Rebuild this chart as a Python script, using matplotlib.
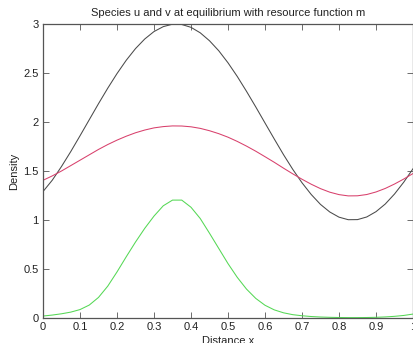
import matplotlib
matplotlib.use("Agg")
import matplotlib.pyplot as plt
import numpy as np

plt.rcParams['font.family'] = ['Liberation Sans', 'DejaVu Sans']

# distance along the habitat
x = np.linspace(0, 1, 41)

# resource function m (black)
m = [1.290, 1.406, 1.546, 1.698, 1.859, 2.023, 2.187, 2.345, 2.494, 2.630,
     2.749, 2.847, 2.923, 2.973, 2.998, 2.995, 2.966, 2.910, 2.829, 2.727,
     2.604, 2.465, 2.313, 2.154, 1.990, 1.827, 1.667, 1.517, 1.380, 1.260,
     1.159, 1.082, 1.029, 1.003, 1.004, 1.031, 1.085, 1.163, 1.265, 1.386,
     1.523]

# species u (red)
u = [1.405, 1.450, 1.500, 1.555, 1.610, 1.665, 1.720, 1.770, 1.815, 1.855,
     1.890, 1.918, 1.940, 1.953, 1.960, 1.959, 1.951, 1.935, 1.911, 1.881,
     1.845, 1.802, 1.754, 1.702, 1.646, 1.589, 1.529, 1.471, 1.416, 1.365,
     1.320, 1.284, 1.259, 1.246, 1.247, 1.260, 1.286, 1.322, 1.367, 1.418,
     1.474]

# species v (green)
v = [0.020, 0.030, 0.043, 0.060, 0.086, 0.132, 0.210, 0.325, 0.470, 0.625,
     0.775, 0.915, 1.040, 1.145, 1.203, 1.203, 1.130, 1.015, 0.865, 0.710,
     0.555, 0.415, 0.295, 0.200, 0.130, 0.083, 0.053, 0.034, 0.023, 0.015,
     0.010, 0.007, 0.005, 0.004, 0.004, 0.005, 0.007, 0.011, 0.017, 0.026,
     0.040]

xticks = [0, 0.1, 0.2, 0.3, 0.4, 0.5, 0.6, 0.7, 0.8, 0.9, 1]
xticklabels = ['0', '0.1', '0.2', '0.3', '0.4', '0.5', '0.6', '0.7', '0.8', '0.9', '1']
yticks = [0, 0.5, 1, 1.5, 2, 2.5, 3]
yticklabels = ['0', '0.5', '1', '1.5', '2', '2.5', '3']

fig = plt.figure(figsize=(4.13, 3.43), dpi=100)
ax = fig.add_axes([43/413, 1 - 318/343, 370/413, 294/343])

ax.plot(x, m, color='#4a4a4a', lw=0.75)
ax.plot(x, u, color='#d8406c', lw=0.75)
ax.plot(x, v, color='#55d855', lw=0.75)

ax.set_xlim(0, 1)
ax.set_ylim(0, 3)
ax.set_xticks(xticks)
ax.set_xticklabels(xticklabels)
ax.set_yticks(yticks)
ax.set_yticklabels(yticklabels)
ax.tick_params(direction='in', length=4, width=0.6, colors='#555555',
               labelcolor='#222222', labelsize=8, top=True, right=True, pad=3)
for s in ax.spines.values():
    s.set_color('#555555')
    s.set_linewidth(0.9)

ax.set_title('Species u and v at equilibrium with resource function m',
             fontsize=8, color='#222222', pad=6)
ax.set_xlabel('Distance x', fontsize=8, color='#222222', labelpad=3)
ax.set_ylabel('Density', fontsize=8, color='#222222', labelpad=3)

fig.savefig('out.png', dpi=100)
